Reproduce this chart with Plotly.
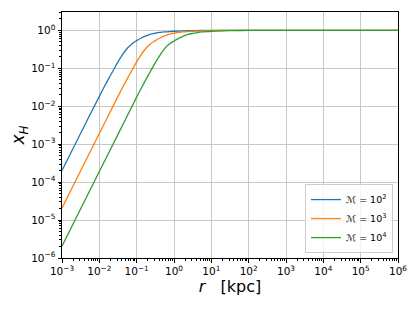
import plotly.graph_objects as go

# data (log10 r  ->  log10 x_H)
lr_blue = [-3.0, -2.5, -2.0, -1.875, -1.75, -1.625, -1.5, -1.375, -1.25, -1.125, -1.0, -0.875, -0.75,
           -0.625, -0.5, -0.375, -0.25, -0.125, 0.0, 0.25, 0.5, 0.75, 1.0, 1.5, 2.0, 6.0]
lx_blue = [-3.69, -2.71, -1.74, -1.50, -1.27, -1.05, -0.83, -0.63, -0.47, -0.35, -0.27, -0.20, -0.145,
           -0.10, -0.075, -0.055, -0.040, -0.030, -0.022, -0.012, -0.006, -0.003, -0.0015, -0.0005, 0.0, 0.0]

lr_orange = [-3.0, -2.5, -2.0, -1.5, -1.375, -1.25, -1.125, -1.0, -0.875, -0.75, -0.625, -0.5, -0.375,
             -0.25, -0.125, 0.0, 0.125, 0.25, 0.375, 0.5, 0.75, 1.0, 1.25, 1.5, 2.0, 2.5, 6.0]
lx_orange = [-4.69, -3.70, -2.72, -1.74, -1.50, -1.27, -1.05, -0.83, -0.63, -0.47, -0.35, -0.27, -0.20,
             -0.145, -0.10, -0.075, -0.055, -0.040, -0.030, -0.022, -0.012, -0.006, -0.003, -0.0015, -0.0005, 0.0, 0.0]

lr_green = [-3.0, -2.5, -2.0, -1.5, -1.0, -0.875, -0.75, -0.625, -0.5, -0.375, -0.25, -0.125, 0.0,
            0.125, 0.25, 0.375, 0.5, 0.625, 0.75, 0.875, 1.0, 1.25, 1.5, 1.75, 2.0, 2.5, 3.0, 6.0]
lx_green = [-5.69, -4.70, -3.72, -2.74, -1.76, -1.52, -1.29, -1.07, -0.85, -0.65, -0.48, -0.36, -0.28,
            -0.21, -0.15, -0.105, -0.078, -0.057, -0.041, -0.031, -0.023, -0.012, -0.006, -0.003, -0.0015, -0.0005, 0.0, 0.0]

series_names = ["ℳ = 10<sup>2</sup>", "ℳ = 10<sup>3</sup>", "ℳ = 10<sup>4</sup>"]
series_colors = ["#1f77b4", "#ff7f0e", "#2ca02c"]

x_exps = list(range(-3, 7))
y_exps = list(range(-6, 1))


def lab(e):
    s = str(e).replace("-", "\u2212")
    return "10<sup>" + s + "</sup>"


fig = go.Figure()
for lr, lx, nm, col in zip([lr_blue, lr_orange, lr_green], [lx_blue, lx_orange, lx_green],
                           series_names, series_colors):
    fig.add_trace(go.Scatter(x=[10 ** v for v in lr], y=[10 ** v for v in lx], mode="lines", name=nm,
                             line=dict(color=col, width=1.3, shape="spline", smoothing=1.0)))

font = "DejaVu Sans"
minor_x = [m * 10 ** e for e in range(-3, 6) for m in range(2, 10)]
minor_y = [m * 10 ** e for e in range(-6, 1) for m in range(2, 10) if m * 10 ** e < 3.05]

# page body has an 8px default margin; size the figure to fit the window
fig.update_layout(
    width=407, height=304,
    margin=dict(l=54.3, r=17, t=4.3, b=53.7),
    paper_bgcolor="white", plot_bgcolor="white",
    font=dict(family=font, size=10.5, color="black"),
    showlegend=True,
    legend=dict(x=0.985, y=0.02, xanchor="right", yanchor="bottom",
                bgcolor="rgba(255,255,255,0.8)", bordercolor="#cccccc", borderwidth=1,
                font=dict(size=9.5, family=font), tracegroupgap=0, itemwidth=30),
)
fig.update_xaxes(
    type="log", range=[-3, 6], automargin=False,
    tickvals=[10 ** e for e in x_exps], ticktext=[lab(e) for e in x_exps],
    showgrid=True, gridcolor="#c8c8c8", gridwidth=1,
    showline=True, mirror=True, linecolor="black", linewidth=1,
    ticks="outside", ticklen=3.5, tickwidth=0.8, tickcolor="black",
    minor=dict(tickvals=minor_x, ticks="outside", ticklen=2, tickwidth=0.6, tickcolor="black", showgrid=False),
    title=dict(text="<i>r</i>   [kpc]", font=dict(size=16, family=font), standoff=0),
    zeroline=False,
)
fig.update_yaxes(
    type="log", range=[-6, 0.485], automargin=False,
    tickvals=[10 ** e for e in y_exps], ticktext=[lab(e) for e in y_exps],
    showgrid=True, gridcolor="#c8c8c8", gridwidth=1,
    showline=True, mirror=True, linecolor="black", linewidth=1,
    ticks="outside", ticklen=3.5, tickwidth=0.8, tickcolor="black",
    minor=dict(tickvals=minor_y, ticks="outside", ticklen=2, tickwidth=0.6, tickcolor="black", showgrid=False),
    title=dict(text="<i>x</i><sub><i>H</i></sub>", font=dict(size=17, family=font), standoff=17),
    zeroline=False,
)

fig.write_html("out.html")
